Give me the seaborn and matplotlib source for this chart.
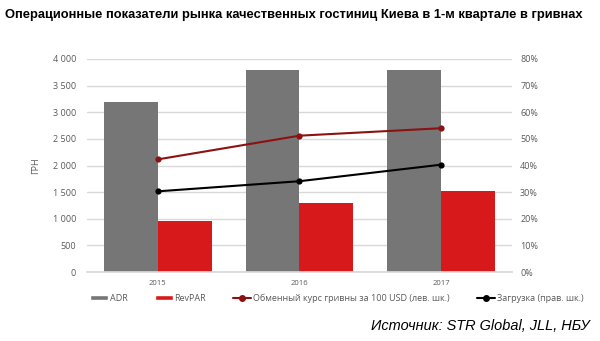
import matplotlib
matplotlib.use("Agg")
import matplotlib.pyplot as plt
import seaborn as sns
import pandas as pd
from matplotlib.patches import Patch
from matplotlib.lines import Line2D
from matplotlib.ticker import FuncFormatter

years = ["2015", "2016", "2017"]
adr = [3200, 3790, 3800]
revpar = [960, 1290, 1530]
fx_rate = [2115, 2560, 2700]
occupancy = [30.3, 34.1, 40.3]
series_names = ["ADR", "RevPAR"]
fx_label = "Обменный курс гривны за 100 USD (лев. шк.)"
occ_label = "Загрузка (прав. шк.)"
title = "Операционные показатели рынка качественных гостиниц Киева в 1-м квартале в гривнах"
source = "Источник: STR Global, JLL, НБУ"

sns.set_theme(style="white")
plt.rcParams["font.family"] = ["Open Sans", "DejaVu Sans"]

GREY = "#767676"
RED = "#d7191c"
DARKRED = "#8c1111"
TXT = "#595959"

bars = pd.DataFrame({
    "year": years * 2,
    "value": adr + revpar,
    "series": [series_names[0]] * 3 + [series_names[1]] * 3,
})
lines = pd.DataFrame({"x": [0, 1, 2], "fx": fx_rate, "occ": occupancy})

fig = plt.figure(figsize=(6, 3.41), dpi=100)
ax = fig.add_axes([0.145, 0.2023, 0.708, 0.6247])

sns.barplot(data=bars, x="year", y="value", hue="series", order=years,
            hue_order=series_names, palette=[GREY, RED], width=0.76,
            saturation=1, ax=ax, legend=False, edgecolor="none")
sns.lineplot(data=lines, x="x", y="fx", color=DARKRED, marker="o",
             markersize=4.5, markeredgewidth=0, linewidth=1.5, ax=ax)
ax.set_xlim(-0.5, 2.5)
ax.set_ylim(0, 4000)
ax.set_yticks(range(0, 4001, 500))
ax.yaxis.set_major_formatter(FuncFormatter(lambda v, p: f"{int(v):,}".replace(",", " ")))
ax.yaxis.grid(True, color="#d9d9d9", linewidth=1)
ax.set_axisbelow(True)
ax.set_xlabel("")
ax.set_ylabel("ГРН", fontsize=6.5, color=TXT, labelpad=9)
ax.tick_params(axis="y", labelsize=6.5, labelcolor=TXT, length=0, pad=8)
ax.tick_params(axis="x", labelsize=5.5, labelcolor=TXT, length=0, pad=6)
for s in ["top", "right", "left"]:
    ax.spines[s].set_visible(False)
ax.spines["bottom"].set_color("#d9d9d9")

ax2 = ax.twinx()
sns.lineplot(data=lines, x="x", y="occ", color="black", marker="o",
             markersize=4.5, markeredgewidth=0, linewidth=1.5, ax=ax2)
ax2.set_ylim(0, 80)
ax2.set_yticks(range(0, 81, 10))
ax2.yaxis.set_major_formatter(FuncFormatter(lambda v, p: f"{int(v)}%"))
ax2.set_ylabel("")
ax2.tick_params(axis="y", labelsize=6.5, labelcolor=TXT, length=0, pad=6)
for s in ["top", "right", "left", "bottom"]:
    ax2.spines[s].set_visible(False)
ax2.set_xlim(-0.5, 2.5)

handles = [
    Patch(facecolor=GREY, label=series_names[0]),
    Patch(facecolor=RED, label=series_names[1]),
    Line2D([], [], color=DARKRED, marker="o", markersize=4, lw=1.5, label=fx_label),
    Line2D([], [], color="black", marker="o", markersize=4, lw=1.5, label=occ_label),
]
fig.legend(handles=handles, loc="center", bbox_to_anchor=(0.561, 0.126), ncol=4,
           frameon=False, fontsize=6.5, labelcolor=TXT, handlelength=2.0,
           handleheight=0.45, columnspacing=3.0, handletextpad=0.2)

t = fig.text(0.009, 0.955, title, fontsize=10.5, fontweight="bold", color="black",
             family=["Liberation Sans", "DejaVu Sans"], ha="left", va="center")
s = fig.text(0.983, 0.045, source, fontsize=11, style="italic", color="black",
             family=["Liberation Sans", "DejaVu Sans"], ha="right", va="center")

renderer = fig.canvas.get_renderer()
for txt, target in ((t, 578), (s, 218)):
    w = txt.get_window_extent(renderer).width
    txt.set_fontsize(txt.get_fontsize() * target / w)

fig.savefig("out.png", dpi=100)
